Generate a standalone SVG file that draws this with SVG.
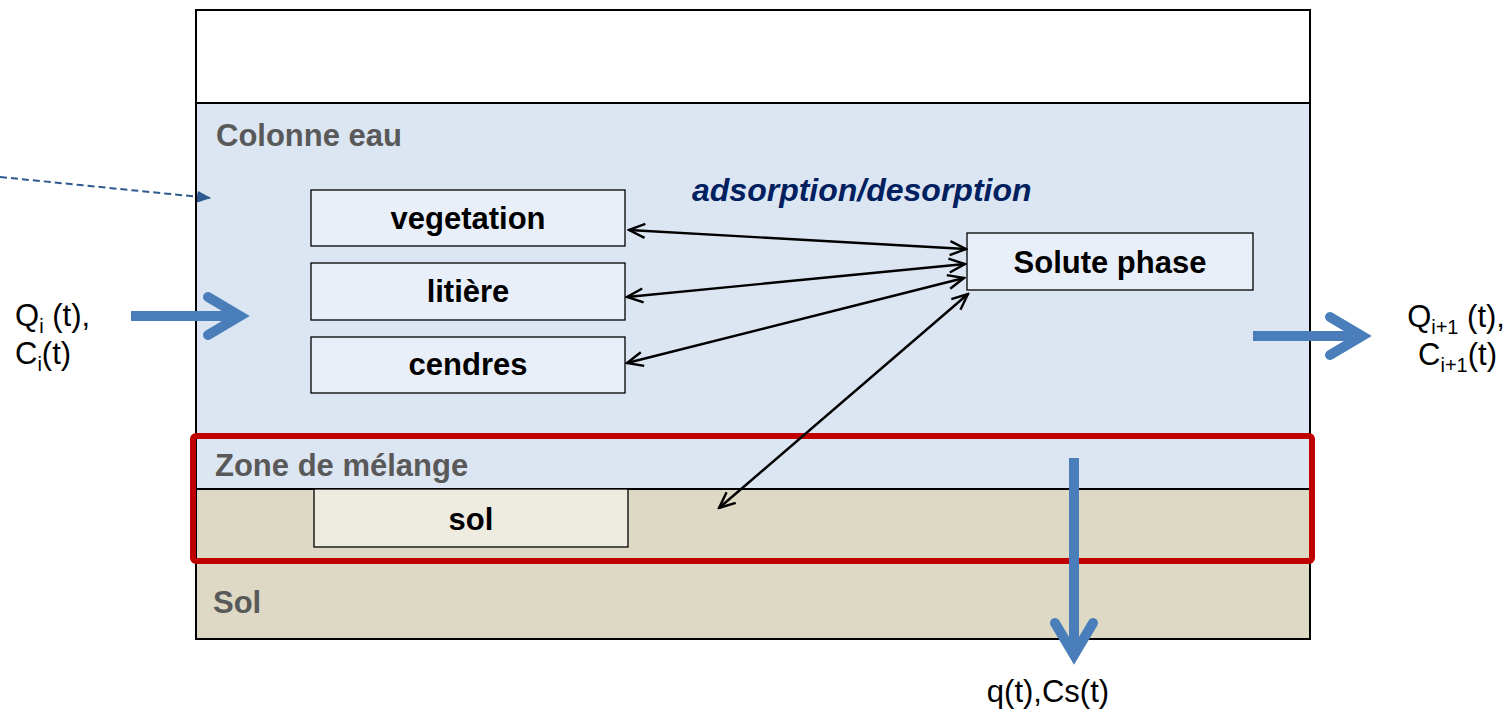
<svg xmlns="http://www.w3.org/2000/svg" width="1512" height="710" viewBox="0 0 1512 710">
<defs>
<style>
.lbl{font-family:"Liberation Sans",Arial,sans-serif;font-weight:bold;font-size:31px;fill:#595959}
.bx{fill:#E9EFF8;stroke:#000;stroke-width:1.3}
.bt{font-family:"Liberation Sans",Arial,sans-serif;font-weight:bold;font-size:31px;fill:#000;text-anchor:middle}
.tx{font-family:"Liberation Sans",Arial,sans-serif;font-size:31px;fill:#000}
.sub{font-size:20px}
.ex{fill:none;stroke:#000;stroke-width:2.4}
.flow{fill:none;stroke:#4A7EBB;stroke-width:10}
.fh{fill:none;stroke:#4A7EBB;stroke-width:10;stroke-linecap:round;stroke-linejoin:miter}
</style>
<marker id="ch" viewBox="0 0 20 20" refX="18" refY="10" markerWidth="20" markerHeight="20" markerUnits="userSpaceOnUse" orient="auto-start-reverse">
<path d="M2,3 L18,10 L2,17" fill="none" stroke="#000" stroke-width="2.4"/>
</marker>
<marker id="tri" viewBox="0 0 14 12" refX="13" refY="6" markerWidth="14" markerHeight="12" markerUnits="userSpaceOnUse" orient="auto">
<path d="M0,0 L14,6 L0,12 Z" fill="#2F5A8F"/>
</marker>
</defs>
<rect width="1512" height="710" fill="#fff"/>
<g id="layers">
<rect x="196" y="10" width="1114" height="93" fill="#fff" stroke="#000" stroke-width="2"/>
<rect x="196" y="103" width="1114" height="386" fill="#DCE6F2" stroke="#000" stroke-width="2"/>
<rect x="196" y="489" width="1114" height="150" fill="#DDD9C4" stroke="#000" stroke-width="2"/>
<text class="lbl" x="216" y="146">Colonne eau</text>
<text class="lbl" x="215" y="476">Zone de mélange</text>
<text class="lbl" x="213" y="613">Sol</text>
</g>
<g id="sol"><rect x="314" y="489" width="314" height="58" fill="#EEECE1" stroke="#000" stroke-width="1.3"/><text class="bt" x="471" y="530">sol</text></g>
<g id="mixing-zone"><rect x="193" y="436" width="1119" height="125" rx="3" fill="none" stroke="#C00000" stroke-width="6"/></g>
<g id="vegetation"><rect class="bx" x="311" y="190" width="314" height="56"/><text class="bt" x="468" y="229">vegetation</text></g>
<g id="litiere"><rect class="bx" x="311" y="263" width="314" height="57"/><text class="bt" x="468" y="302">litière</text></g>
<g id="cendres"><rect class="bx" x="311" y="337" width="314" height="56"/><text class="bt" x="468" y="375">cendres</text></g>
<g id="solute"><rect class="bx" x="967" y="233" width="286" height="57"/><text class="bt" x="1110" y="273">Solute phase</text></g>
<text x="692" y="201" font-family="Liberation Sans,Arial,sans-serif" font-weight="bold" font-style="italic" font-size="32" fill="#002060">adsorption/desorption</text>
<g id="connectors">
<line class="ex" x1="629" y1="230" x2="966" y2="249" marker-start="url(#ch)" marker-end="url(#ch)"/>
<line class="ex" x1="627" y1="297" x2="965" y2="264" marker-start="url(#ch)" marker-end="url(#ch)"/>
<line class="ex" x1="627" y1="363" x2="964" y2="278" marker-start="url(#ch)" marker-end="url(#ch)"/>
<line class="ex" x1="719" y1="508" x2="968" y2="294" marker-start="url(#ch)" marker-end="url(#ch)"/>
<line x1="0" y1="177" x2="210" y2="198" stroke="#2F5A8F" stroke-width="2" stroke-dasharray="7,4" marker-end="url(#tri)"/>
<line class="flow" x1="131" y1="316" x2="240" y2="316"/>
<path class="fh" d="M208,297 L240,316 L208,335"/>
<line class="flow" x1="1253" y1="336" x2="1362" y2="336"/>
<path class="fh" d="M1330,317 L1362,336 L1330,355"/>
<line class="flow" x1="1074" y1="458" x2="1074" y2="655"/>
<path class="fh" d="M1055,623 L1074,655 L1093,623"/>
</g>
<g id="labels">
<text class="tx" x="15" y="326">Q<tspan class="sub" dy="7">i</tspan><tspan dy="-7"> (t),</tspan></text>
<text class="tx" x="15" y="364">C<tspan class="sub" dy="7">i</tspan><tspan dy="-7">(t)</tspan></text>
<text class="tx" x="1505" y="327" text-anchor="end">Q<tspan class="sub" dy="7">i+1</tspan><tspan dy="-7"> (t),</tspan></text>
<text class="tx" x="1497" y="365" text-anchor="end">C<tspan class="sub" dy="7">i+1</tspan><tspan dy="-7">(t)</tspan></text>
<text class="tx" x="1048" y="702" text-anchor="middle">q(t),Cs(t)</text>
</g>
</svg>
